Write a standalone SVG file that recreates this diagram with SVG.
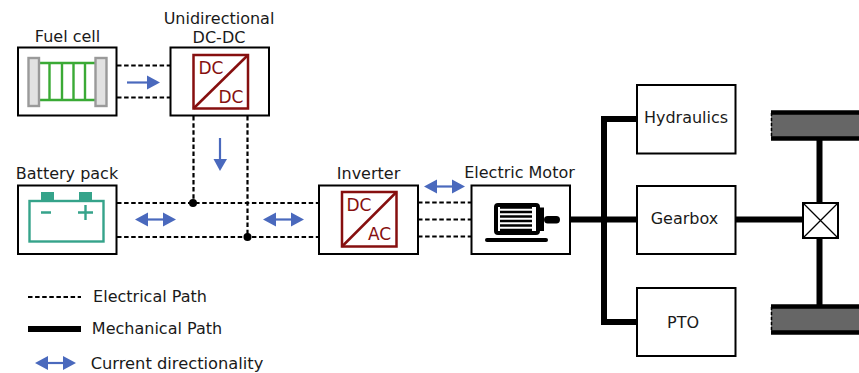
<svg xmlns="http://www.w3.org/2000/svg" width="859" height="373" viewBox="0 0 859 373">
<style>
text{font-family:"DejaVu Sans",Verdana,sans-serif;font-size:16px;fill:#1a1a1a;text-anchor:middle}
.box{fill:#fff;stroke:#000;stroke-width:2}
.el{fill:none;stroke:#000;stroke-width:2.200;stroke-dasharray:4.500 2.600}
.me{fill:none;stroke:#000;stroke-width:6}
.cur{fill:none;stroke:#4a69bd;stroke-width:2.200}
.hd{fill:#4a69bd}
.conv{fill:none;stroke:#860f0f;stroke-width:2.500}
.conv-t{fill:#860f0f;font-size:17px}
.g{fill:none;stroke:#3aaa35;stroke-width:2.400}
.b{fill:none;stroke:#35a38a;stroke-width:2.400}
.pl{fill:#e2e2e2;stroke:#9a9a9a;stroke-width:2.400}
.leg{font-size:16.300px}
</style>
<g id="connectors">
<path class="el" d="M117 65.500H170M117 97.500H170M193.500 109V203M247.500 109V237M117 203H319M117 237H319M418 202.500H471M418 219.500H471M418 236.500H471"/>
<circle cx="193" cy="203" r="4"/><circle cx="247.500" cy="237" r="4"/>
<path class="me" d="M570 219.500H637M637 119H604V322H637M736 219.500H803M819.500 140V203M819.500 238V305"/>
</g>
<g id="currents">
<path class="cur" d="M127 82.500H150"/><path class="hd" d="M147 75.500L160 82.500L147 89.500Z"/>
<path class="cur" d="M220 138V161"/><path class="hd" d="M213.500 159L220 171L227 159Z"/>
<g id="cur1"><path class="cur" d="M143 219.500H167"/><path class="hd" d="M135 219.500L148 212.500V226.500ZM176 219.500L163 212.500V226.500Z"/></g>
<g id="cur2"><path class="cur" d="M272 219.500H296"/><path class="hd" d="M263 219.500L276 212.500V226.500ZM304 219.500L291 212.500V226.500Z"/></g>
<g id="cur3"><path class="cur" d="M432 186.500H457"/><path class="hd" d="M424 186.500L437 179.500V193.500ZM465 186.500L452 179.500V193.500Z"/></g>
</g>
<g id="fuel-cell">
<rect class="box" x="18" y="47.500" width="98.500" height="68"/>
<text x="67.500" y="42">Fuel cell</text>
<path class="g" d="M39.500 63H95.500M39.500 100H95.500M49.500 63V100M62 63V100M73.500 63V100M85 63V100"/>
<rect class="pl" x="28.500" y="58" width="10.500" height="48"/><rect class="pl" x="95.500" y="58" width="11" height="48"/>
</g>
<g id="dc-dc">
<rect class="box" x="170.500" y="47.500" width="98.500" height="68"/>
<text x="219" y="24">Unidirectional</text><text x="219" y="43">DC-DC</text>
<rect class="conv" x="193.500" y="55" width="54.500" height="53.500"/><path class="conv" d="M193.500 108.500L248 55"/>
<text class="conv-t" x="211" y="74">DC</text><text class="conv-t" x="231" y="103">DC</text>
</g>
<g id="battery">
<rect class="box" x="18" y="185.500" width="98.500" height="68.500"/>
<text x="67" y="179">Battery pack</text>
<rect class="b" x="29.500" y="201" width="74" height="40.500"/>
<path fill="#35a38a" d="M41 192H54V201H41ZM79 192H92V201H79Z"/>
<path class="b" d="M41 212.500H51M78 212.500H93M85.500 205V220"/>
</g>
<g id="inverter">
<rect class="box" x="319" y="185.500" width="99" height="68.500"/>
<text x="368.500" y="179">Inverter</text>
<rect class="conv" x="342" y="192" width="54.500" height="54.500"/><path class="conv" d="M342 246.500L396.500 192"/>
<text class="conv-t" x="359" y="211">DC</text><text class="conv-t" x="379.500" y="240">AC</text>
</g>
<g id="motor">
<rect class="box" x="471.500" y="185.500" width="98.500" height="68.500"/>
<text x="519.500" y="178">Electric Motor</text>
<rect x="496" y="205" width="42" height="28" rx="2" fill="#fff" stroke="#000" stroke-width="4"/>
<path d="M500 207.500H532M500 212H532M500 216.500H532M500 221H532M500 225.500H532M500 230H532" stroke="#000" stroke-width="2.300" fill="none"/>
<path d="M540 207.500H544V231H540Z"/>
<rect x="544" y="216" width="16" height="7.500" rx="3.700"/>
<rect x="485" y="238" width="63" height="4" rx="2"/>
</g>
<g id="hydraulics"><rect class="box" x="637" y="85" width="98.500" height="68.500"/><text x="686" y="123">Hydraulics</text></g>
<g id="gearbox"><rect class="box" x="637" y="186" width="98.500" height="68"/><text x="684.500" y="224">Gearbox</text></g>
<g id="pto"><rect class="box" x="637" y="288" width="98.500" height="68"/><text x="683" y="328">PTO</text></g>
<g id="differential"><rect class="box" x="803" y="203" width="35" height="35"/><path d="M803 203L838 238M838 203L803 238" stroke="#000" stroke-width="1.300"/></g>
<g id="wheel-top"><rect x="771" y="113" width="90" height="25" fill="#666"/><path d="M771 112.500H861M771 138.500H861" stroke="#000" stroke-width="4.500"/><path d="M771.500 113V138" stroke="#000" stroke-width="1.500" stroke-dasharray="3 2"/></g>
<g id="wheel-bottom"><rect x="771" y="307" width="90" height="25" fill="#666"/><path d="M771 306.500H861M771 332.500H861" stroke="#000" stroke-width="4.500"/><path d="M771.500 307V332" stroke="#000" stroke-width="1.500" stroke-dasharray="3 2"/></g>
<g id="legend">
<path class="el" d="M28 297H81"/><text x="150" y="302">Electrical Path</text>
<path d="M28 326V332H81V326Z"/><text x="157" y="334">Mechanical Path</text>
<path class="cur" d="M44 363H68"/><path class="hd" d="M35 363L48 356V370ZM76 363L63 356V370Z"/><text class="leg" x="177" y="369">Current directionality</text>
</g>
</svg>
